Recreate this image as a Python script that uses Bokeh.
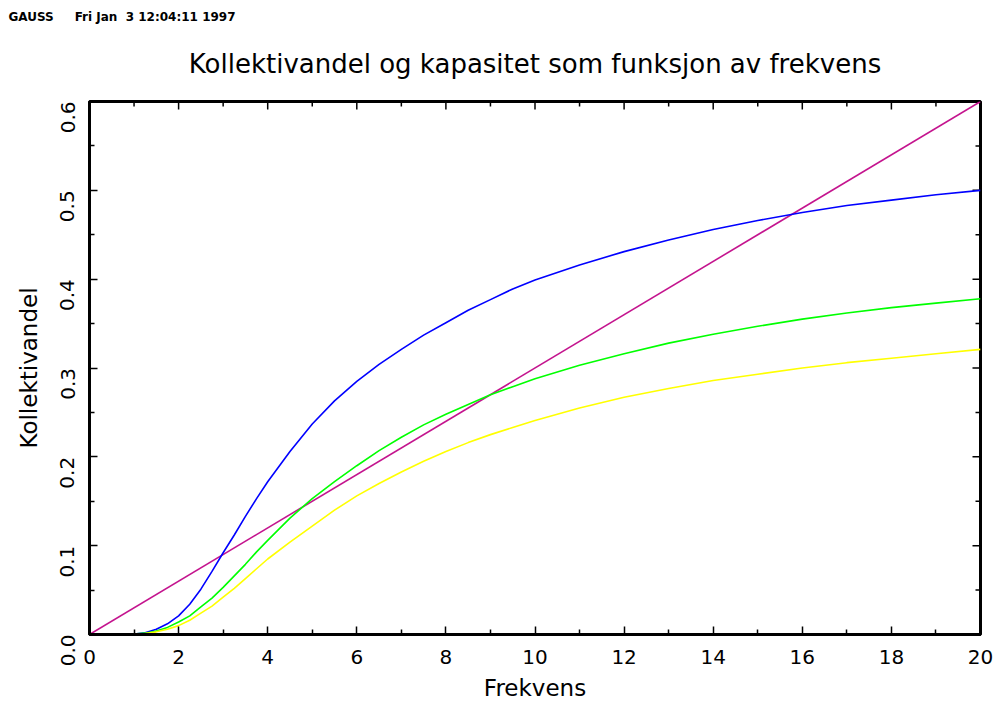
from math import pi
from bokeh.plotting import figure
from bokeh.models import Range1d, FixedTicker, PrintfTickFormatter, LinearAxis, Title
from bokeh.embed import file_html
from bokeh.resources import INLINE

# --- data ---
x_curve = [0, 0.5, 1, 1.25, 1.5, 1.75, 2, 2.25, 2.5, 2.75, 3, 3.25, 3.5, 3.75, 4, 4.5,
           5, 5.5, 6, 6.5, 7, 7.5, 8, 8.5, 9, 9.5, 10, 11, 12, 13, 14, 15, 16, 17, 18,
           19, 20]
blue = [0, 0, 0.0005, 0.002, 0.006, 0.012, 0.021, 0.034, 0.051, 0.071, 0.092, 0.112,
        0.133, 0.153, 0.172, 0.206, 0.237, 0.263, 0.285, 0.304, 0.321, 0.337, 0.351,
        0.365, 0.377, 0.389, 0.399, 0.416, 0.431, 0.444, 0.456, 0.466, 0.475, 0.483,
        0.489, 0.495, 0.500]
green = [0, 0, 0.0004, 0.0015, 0.004, 0.008, 0.014, 0.021, 0.031, 0.041, 0.053, 0.066,
         0.079, 0.093, 0.106, 0.131, 0.153, 0.172, 0.190, 0.207, 0.222, 0.236, 0.248,
         0.259, 0.270, 0.279, 0.288, 0.303, 0.316, 0.328, 0.338, 0.347, 0.355, 0.362,
         0.368, 0.373, 0.378]
yellow = [0, 0, 0.0002, 0.001, 0.003, 0.006, 0.010, 0.016, 0.024, 0.032, 0.042, 0.052,
          0.063, 0.074, 0.085, 0.104, 0.122, 0.140, 0.156, 0.170, 0.183, 0.195, 0.206,
          0.216, 0.225, 0.233, 0.241, 0.255, 0.267, 0.277, 0.286, 0.293, 0.300, 0.306,
          0.311, 0.316, 0.321]
x_line = [0, 20]
capacity = [0, 0.6]

x_ticks = [0, 2, 4, 6, 8, 10, 12, 14, 16, 18, 20]
x_minor = [1, 3, 5, 7, 9, 11, 13, 15, 17, 19]
y_ticks = [0.0, 0.1, 0.2, 0.3, 0.4, 0.5, 0.6]
y_minor = [0.05, 0.15, 0.25, 0.35, 0.45, 0.55]

title_text = "Kollektivandel og kapasitet som funksjon av frekvens"
header_text = "GAUSS\u00a0\u00a0\u00a0\u00a0 Fri Jan\u00a0 3 12:04:11 1997"
FONT = "DejaVu Sans"

p = figure(width=996, height=704, output_backend="svg", toolbar_location=None,
           x_range=Range1d(0, 20), y_range=Range1d(0, 0.6),
           min_border_left=89, min_border_right=16, min_border_top=101,
           min_border_bottom=70, x_axis_location=None, y_axis_location=None)
p.background_fill_color = "white"
p.border_fill_color = "white"
p.grid.visible = False
p.outline_line_color = "black"
p.outline_line_width = 3

# header line (outermost title)
p.title.text = header_text
p.title.align = "left"
p.title.offset = -81
p.title.text_font = FONT
p.title.text_font_style = "bold"
p.title.text_font_size = "12px"
p.title.text_color = "black"
p.title.standoff = 0

# main title (closer to the frame)
p.add_layout(Title(text=title_text, align="center", text_font=FONT,
                   text_font_size="26px", text_font_style="normal",
                   text_color="black", standoff=46), "above")


def style_axis(ax):
    ax.axis_line_width = 3
    ax.axis_line_color = "black"
    ax.major_tick_in = 8
    ax.major_tick_out = 0
    ax.minor_tick_in = 5
    ax.minor_tick_out = 0
    ax.major_tick_line_width = 1.5
    ax.minor_tick_line_width = 1.5
    ax.major_tick_line_color = "black"
    ax.minor_tick_line_color = "black"
    ax.major_label_text_font = FONT
    ax.major_label_text_color = "black"
    ax.axis_label_text_font = FONT
    ax.axis_label_text_font_style = "normal"
    ax.axis_label_text_color = "black"


xt = FixedTicker(ticks=x_ticks, minor_ticks=x_minor)
yt = FixedTicker(ticks=y_ticks, minor_ticks=y_minor)

xb = LinearAxis(ticker=xt, axis_label="Frekvens")
style_axis(xb)
xb.major_label_text_font_size = "20px"
xb.major_label_standoff = 15
xb.axis_label_text_font_size = "23px"
xb.axis_label_standoff = 8
p.add_layout(xb, "below")

yl = LinearAxis(ticker=yt, axis_label="Kollektivandel",
                formatter=PrintfTickFormatter(format="%.1f"))
style_axis(yl)
yl.major_label_text_font_size = "20px"
yl.major_label_orientation = pi / 2
yl.major_label_standoff = 22
yl.axis_label_text_font_size = "23px"
yl.axis_label_standoff = 9
p.add_layout(yl, "left")

# inward ticks on the top and right edges of the frame
p.ray(x=x_ticks, y=[0.6] * len(x_ticks), length=8, length_units="screen",
      angle=-pi / 2, line_color="black", line_width=1.5)
p.ray(x=x_minor, y=[0.6] * len(x_minor), length=5, length_units="screen",
      angle=-pi / 2, line_color="black", line_width=1.5)
p.ray(x=[20] * len(y_ticks), y=y_ticks, length=8, length_units="screen",
      angle=pi, line_color="black", line_width=1.5)
p.ray(x=[20] * len(y_minor), y=y_minor, length=5, length_units="screen",
      angle=pi, line_color="black", line_width=1.5)

p.line(x_line, capacity, line_color="#C4148E", line_width=1.6)
p.line(x_curve, blue, line_color="#0000FF", line_width=1.6)
p.line(x_curve, green, line_color="#00FF00", line_width=1.6)
p.line(x_curve, yellow, line_color="#FFFF00", line_width=1.6)

open("out.html", "w").write(file_html(p, INLINE))
